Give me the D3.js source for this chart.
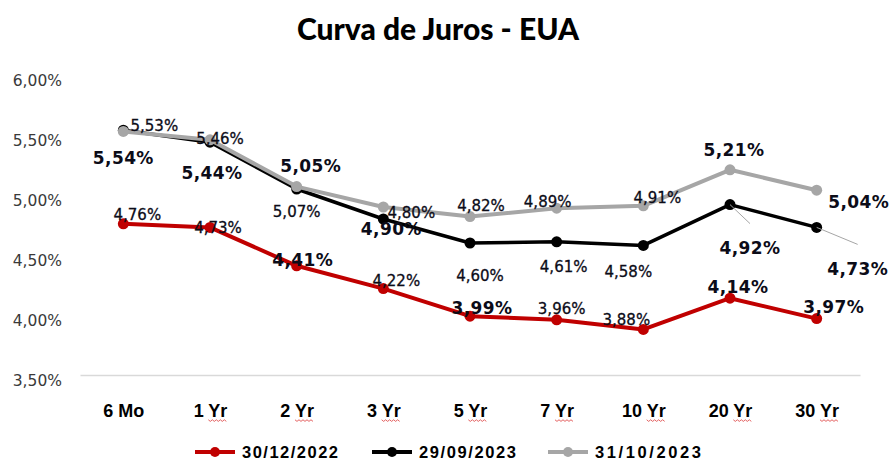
<!DOCTYPE html>
<html>
<head>
<meta charset="utf-8">
<script src="https://cdn.jsdelivr.net/npm/d3@7"></script>
<style>
  body { margin: 0; background: #fff; }
  svg { display: block; }
</style>
</head>
<body>
<div id="chart"></div>
<script>
// data
var categories = ["6 Mo", "1 Yr", "2 Yr", "3 Yr", "5 Yr", "7 Yr", "10 Yr", "20 Yr", "30 Yr"]
var dec2022 = [4.76, 4.73, 4.41, 4.22, 3.99, 3.96, 3.88, 4.14, 3.97]
var sep2023 = [5.54, 5.44, 5.05, 4.80, 4.60, 4.61, 4.58, 4.92, 4.73]
var oct2023 = [5.53, 5.46, 5.07, 4.90, 4.82, 4.89, 4.91, 5.21, 5.04]
var seriesNames = ["30/12/2022", "29/09/2023", "31/10/2023"]
var yTicks = [3.5, 4.0, 4.5, 5.0, 5.5, 6.0]

// label placement (offset from the point) and size, per series
var labelOffsets = [
  [[14, -9], [8, 0], [6, -6], [13, -8], [12, -8], [5, -11], [-17, -10], [8, -11], [17, -12]],
  [[0, 28], [2, 31], [14, -23], [28, -6], [10, 33], [7, 25], [-15, 26], [20, 43], [41, 41]],
  [[31, -6], [10, -1], [0, 25], [8, 22], [11, -11], [-9, -7], [14, -8], [4, -20], [42, 12]]
]
var labelBig = [
  [0, 0, 1, 0, 1, 0, 0, 1, 1],
  [1, 1, 1, 0, 0, 0, 0, 1, 1],
  [0, 0, 0, 1, 0, 0, 0, 1, 1]
]
var leaders = [[], [7, 8], []]   // points with a thin leader line to the label
var colors = ["#c00000", "#000000", "#a6a6a6"]
var lineWidths = [4, 3.5, 4]

var width = 893
    height = 461

var series = [dec2022, sep2023, oct2023]

var ptBR = d3.formatLocale({decimal: ",", thousands: ".", grouping: [3], currency: ["", ""]})
var fmt = ptBR.format(".2f")

var svg = d3.select("#chart")
    .append("svg")
        .attr("width", width)
        .attr("height", height)

// title
svg.append("text")
    .attr("x", 438)
    .attr("y", 40)
    .attr("text-anchor", "middle")
    .style("font-family", "Lato, 'Open Sans', sans-serif")
    .style("font-weight", "900")
    .style("font-size", "30px")
    .style("fill", "#000")
    .text("Curva de Juros - EUA")

var x = d3.scalePoint()
    .domain(categories)
    .range([80, 860])
    .padding(0.5)

var y = d3.scaleLinear()
    .domain([3.5, 6])
    .range([375, 75])

// y axis, labels only
var yAxis = svg.append("g")
    .attr("transform", "translate(80,0)")
    .call(d3.axisLeft(y).tickValues(yTicks).tickSize(0).tickPadding(18)
        .tickFormat(function(d) { return fmt(d) + "%" }))
yAxis.select(".domain").remove()
yAxis.selectAll("text")
    .attr("dy", "0.7em")
    .style("font-family", "'DejaVu Sans', sans-serif")
    .style("font-size", "15.5px")
    .style("fill", "#3a3a3a")

// x axis
var xAxis = svg.append("g")
    .attr("transform", "translate(0," + y(3.5) + ")")
    .call(d3.axisBottom(x).tickSize(0).tickSizeOuter(0).tickPadding(29))
xAxis.select(".domain")
    .attr("stroke", "#d9d9d9")
    .attr("stroke-width", 1.5)
xAxis.selectAll(".tick text")
    .style("font-family", "'Liberation Sans', Arial, sans-serif")
    .style("font-weight", "bold")
    .style("font-size", "18px")
    .style("fill", "#000")

// spell-check squiggles under "Yr", as in the picture
xAxis.selectAll(".tick text").each(function() {
    var t = this.textContent
    var i = t.indexOf("Yr")
    if (i < 0) return
    var x0 = this.getStartPositionOfChar(i).x
    var x1 = this.getEndPositionOfChar(i + 1).x
    var by = this.getStartPositionOfChar(i).y + 3
    var pts = []
    for (var k = 0; x0 + k * 2 <= x1; k++) pts.push([x0 + k * 2, by + (k % 2 ? 1.6 : 0)])
    d3.select(this.parentNode).append("path")
        .attr("d", d3.line()(pts))
        .attr("fill", "none")
        .attr("stroke", "#e05050")
        .attr("stroke-width", 0.9)
})

var line = d3.line()
    .x(function(d, i) { return x(categories[i]) })
    .y(function(d) { return y(d) })

// lines and markers
series.forEach(function(s, si) {
    svg.append("path")
        .datum(s)
        .attr("d", line)
        .attr("fill", "none")
        .attr("stroke", colors[si])
        .attr("stroke-width", lineWidths[si])
        .attr("stroke-linejoin", "round")

    svg.selectAll(".dot" + si)
        .data(s)
        .enter()
        .append("circle")
        .attr("class", "dot" + si)
        .attr("cx", function(d, i) { return x(categories[i]) })
        .attr("cy", function(d) { return y(d) })
        .attr("r", 5.5)
        .attr("fill", colors[si])
})

// leader lines
series.forEach(function(s, si) {
    leaders[si].forEach(function(i) {
        var o = labelOffsets[si][i]
        svg.append("line")
            .attr("x1", x(categories[i]))
            .attr("y1", y(s[i]))
            .attr("x2", x(categories[i]) + o[0])
            .attr("y2", y(s[i]) + o[1] - 24)
            .attr("stroke", "#a6a6a6")
            .attr("stroke-width", 1)
    })
})

// data labels
series.forEach(function(s, si) {
    svg.selectAll(".lab" + si)
        .data(s)
        .enter()
        .append("text")
        .attr("class", "lab" + si)
        .attr("x", function(d, i) { return x(categories[i]) + labelOffsets[si][i][0] })
        .attr("y", function(d, i) { return y(d) + labelOffsets[si][i][1] })
        .attr("dy", "0.36em")
        .attr("text-anchor", "middle")
        .style("font-family", "'DejaVu Sans', sans-serif")
        .style("font-weight", function(d, i) { return labelBig[si][i] ? "bold" : "normal" })
        .style("font-size", function(d, i) { return labelBig[si][i] ? "17px" : "15px" })
        .style("letter-spacing", function(d, i) { return labelBig[si][i] ? "0.4px" : "0px" })
        .style("fill", "#0c0c18")
        .style("stroke", "#0c0c18")
        .style("stroke-width", function(d, i) { return labelBig[si][i] ? 0 : 0.3 })
        .text(function(d) { return fmt(d) + "%" })
})

// legend
var legendX = [195, 372, 548]
var legendLen = [96, 97, 106]
var legend = svg.selectAll(".legend")
    .data(seriesNames)
    .enter()
    .append("g")
    .attr("class", "legend")
    .attr("transform", function(d, i) { return "translate(" + legendX[i] + ",452)" })

legend.append("line")
    .attr("x1", 0).attr("x2", 40)
    .attr("stroke", function(d, i) { return colors[i] })
    .attr("stroke-width", 4)
legend.append("circle")
    .attr("cx", 20)
    .attr("r", 5)
    .attr("fill", function(d, i) { return colors[i] })
legend.append("text")
    .attr("x", 47)
    .attr("y", 6)
    .attr("textLength", function(d, i) { return legendLen[i] })
    .attr("lengthAdjust", "spacing")
    .style("font-family", "'Liberation Sans', Arial, sans-serif")
    .style("font-weight", "bold")
    .style("font-size", i => 16.5)
    .style("font-size", "16.5px")
    .style("fill", "#000")
    .text(function(d) { return d })
</script>
</body>
</html>
